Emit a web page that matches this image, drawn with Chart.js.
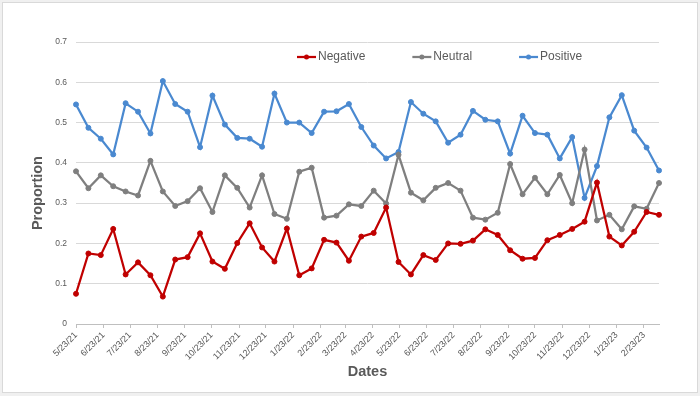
<!DOCTYPE html>
<html>
<head>
<meta charset="utf-8">
<script src="https://cdn.jsdelivr.net/npm/chart.js@4.4.0/dist/chart.umd.min.js"></script>
<style>
  html, body { margin: 0; padding: 0; background: #f0f0f0; }
  #frame { position: absolute; left: 2px; top: 2px; width: 694px; height: 389px; border: 1px solid #d9d9d9; background: #fff; }
  #myChart { position: absolute; left: 0; top: 0; }
</style>
</head>
<body>
<div id="frame"></div>
<canvas id="myChart" width="700" height="396"></canvas>
<script>
// data points, roughly every two weeks
const dates = [
  '5/23/21', '6/6/21', '6/20/21', '7/4/21', '7/18/21', '8/1/21', '8/15/21', '8/29/21',
  '9/12/21', '9/26/21', '10/10/21', '10/24/21', '11/7/21', '11/21/21', '12/5/21', '12/19/21',
  '1/2/22', '1/16/22', '1/30/22', '2/13/22', '2/27/22', '3/13/22', '3/27/22', '4/10/22',
  '4/24/22', '5/8/22', '5/22/22', '6/5/22', '6/19/22', '7/3/22', '7/17/22', '7/31/22',
  '8/14/22', '8/28/22', '9/11/22', '9/25/22', '10/9/22', '10/23/22', '11/6/22', '11/20/22',
  '12/4/22', '12/18/22', '1/1/23', '1/15/23', '1/29/23', '2/12/23', '2/26/23', '3/12/23'
];

const negative = [
  0.075, 0.175, 0.171, 0.236, 0.123, 0.153, 0.121, 0.068, 0.160, 0.166, 0.225, 0.155,
  0.137, 0.201, 0.250, 0.190, 0.155, 0.237, 0.121, 0.138, 0.209, 0.202, 0.157, 0.217,
  0.226, 0.289, 0.154, 0.123, 0.171, 0.159, 0.200, 0.199, 0.207, 0.235, 0.221, 0.183,
  0.162, 0.164, 0.208, 0.221, 0.236, 0.254, 0.351, 0.217, 0.195, 0.229, 0.278, 0.271
];
const neutral = [
  0.379, 0.337, 0.369, 0.342, 0.329, 0.319, 0.405, 0.329, 0.293, 0.305, 0.337, 0.278,
  0.369, 0.338, 0.289, 0.369, 0.273, 0.261, 0.378, 0.388, 0.264, 0.269, 0.297, 0.293,
  0.331, 0.299, 0.420, 0.326, 0.307, 0.338, 0.350, 0.331, 0.264, 0.259, 0.276, 0.397,
  0.322, 0.363, 0.322, 0.370, 0.300, 0.433, 0.257, 0.271, 0.235, 0.292, 0.286, 0.350
];
const positive = [
  0.545, 0.487, 0.460, 0.421, 0.548, 0.527, 0.473, 0.603, 0.546, 0.527, 0.439, 0.567,
  0.495, 0.462, 0.460, 0.440, 0.572, 0.500, 0.500, 0.474, 0.527, 0.528, 0.546, 0.489,
  0.443, 0.411, 0.427, 0.551, 0.522, 0.503, 0.450, 0.470, 0.529, 0.507, 0.503, 0.423,
  0.517, 0.474, 0.470, 0.411, 0.464, 0.313, 0.392, 0.513, 0.568, 0.480, 0.438, 0.381
];

// monthly labels on the date axis
const tickLabels = [
  '5/23/21', '6/23/21', '7/23/21', '8/23/21', '9/23/21', '10/23/21', '11/23/21', '12/23/21',
  '1/23/22', '2/23/22', '3/23/22', '4/23/22', '5/23/22', '6/23/22', '7/23/22', '8/23/22',
  '9/23/22', '10/23/22', '11/23/22', '12/23/22', '1/23/23', '2/23/23'
];

const yTicks = [0, 0.1, 0.2, 0.3, 0.4, 0.5, 0.6, 0.7];

// m/d/yy -> day number
function dayNum(s) {
  const parts = s.split('/').map(Number);
  return Date.UTC(2000 + parts[2], parts[0] - 1, parts[1]) / 86400000;
}

function toPoints(values) {
  return values.map((v, i) => ({ x: dayNum(dates[i]), y: v }));
}

const textColor = '#595959';
const fontName = '"Liberation Sans", Arial, sans-serif';

function makeSeries(label, values, color) {
  return {
    label: label,
    data: toPoints(values),
    borderColor: color,
    backgroundColor: color,
    pointBackgroundColor: color,
    pointBorderColor: color,
    borderWidth: 2.25,
    pointRadius: 2.5,
    pointBorderWidth: 1,
    tension: 0,
    fill: false,
    clip: false
  };
}

// Excel style legend sitting inside the plot area
const legendInside = {
  id: 'legendInside',
  afterDraw(chart) {
    const ctx = chart.ctx;
    ctx.save();
    ctx.font = '12px ' + fontName;
    ctx.textBaseline = 'middle';
    let x = 297;
    const y = 57;
    chart.data.datasets.forEach(ds => {
      ctx.strokeStyle = ds.borderColor;
      ctx.lineWidth = 2.25;
      ctx.beginPath();
      ctx.moveTo(x, y);
      ctx.lineTo(x + 19, y);
      ctx.stroke();
      ctx.fillStyle = ds.borderColor;
      ctx.beginPath();
      ctx.arc(x + 9.5, y, 2.5, 0, Math.PI * 2);
      ctx.fill();
      ctx.fillStyle = textColor;
      ctx.fillText(ds.label, x + 21, y);
      x += 21 + ctx.measureText(ds.label).width + 47;
    });
    ctx.restore();
  }
};

const ctx = document.getElementById('myChart').getContext('2d');
const myChart = new Chart(ctx, {
  type: 'line',
  data: {
    datasets: [
      makeSeries('Negative', negative, '#c00000'),
      makeSeries('Neutral', neutral, '#7f7f7f'),
      makeSeries('Positive', positive, '#4a89d0')
    ]
  },
  plugins: [legendInside],
  options: {
    responsive: false,
    animation: false,
    devicePixelRatio: 1,
    layout: { padding: { top: 42, right: 41, left: 0, bottom: 0 } },
    plugins: {
      legend: { display: false },
      tooltip: { enabled: false }
    },
    scales: {
      x: {
        type: 'linear',
        min: dayNum(dates[0]),
        max: dayNum(dates[dates.length - 1]),
        afterBuildTicks: scale => {
          scale.ticks = tickLabels.map(l => ({ value: dayNum(l) }));
        },
        afterFit: scale => { scale.height = 72; },
        grid: { display: true, drawOnChartArea: false, drawTicks: true, tickLength: 4, color: '#bfbfbf' },
        border: { display: true, color: '#bfbfbf', width: 1 },
        ticks: {
          autoSkip: false,
          minRotation: 45,
          maxRotation: 45,
          padding: 2,
          color: textColor,
          font: { family: fontName, size: 9 },
          callback: (value, index) => tickLabels[index]
        },
        title: {
          display: true,
          text: 'Dates',
          color: textColor,
          font: { family: fontName, size: 14.5, weight: 'bold' },
          padding: { top: 0, bottom: 15 }
        }
      },
      y: {
        min: 0,
        max: 0.7,
        afterBuildTicks: scale => {
          scale.ticks = yTicks.map(v => ({ value: v }));
        },
        afterFit: scale => { scale.width = 76; },
        grid: { color: '#d9d9d9', drawTicks: false, lineWidth: 1 },
        border: { display: false },
        ticks: {
          padding: 9,
          color: textColor,
          font: { family: fontName, size: 8.5 },
          callback: value => value === 0 ? '0' : value.toFixed(1)
        },
        title: {
          display: true,
          text: 'Proportion     ',
          color: textColor,
          font: { family: fontName, size: 14.5, weight: 'bold' },
          padding: { top: 29, bottom: 0 }
        }
      }
    }
  }
});
</script>
</body>
</html>
